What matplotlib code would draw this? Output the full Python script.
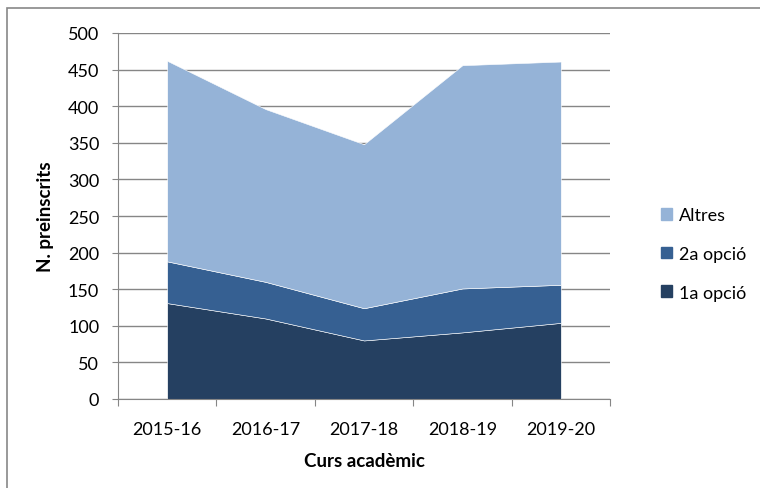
import numpy as np
import matplotlib.pyplot as plt
from matplotlib.patches import Rectangle, Patch

# Data
cursos = ["2015-16", "2016-17", "2017-18", "2018-19", "2019-20"]
opcio1 = [131, 110, 80, 91, 104]
opcio2 = [57, 50, 44, 60, 52]
altres = [274, 236, 224, 305, 305]

COLORS = {"1a": "#254061", "2a": "#366092", "altres": "#95B3D7"}

plt.rcParams["font.family"] = ["Lato", "DejaVu Sans"]

fig = plt.figure(figsize=(7.6, 4.89), dpi=100)
# outer chart frame
fig.patches.append(Rectangle((7 / 760, -0.1), 1.0, 1 - 9 / 489 + 0.1,
                             transform=fig.transFigure, fill=False,
                             edgecolor="#878787", linewidth=1.2))

ax = fig.add_axes([118 / 760, 1 - 400 / 489, (610 - 118) / 760, (400 - 34) / 489])

x = np.arange(len(cursos))
ax.stackplot(x, opcio1, opcio2, altres,
             colors=[COLORS["1a"], COLORS["2a"], COLORS["altres"]],
             edgecolor="white", linewidth=0.4, zorder=2)

ax.set_xlim(-0.5, len(cursos) - 0.5)
ax.set_ylim(0, 500)
ax.set_yticks(np.arange(0, 501, 50))
ax.yaxis.grid(True, color="#868686", linewidth=1.0, zorder=0)
ax.set_axisbelow(True)

# ticks at category boundaries, labels at the centres
ax.set_xticks(np.arange(-0.5, len(cursos), 1.0))
ax.set_xticklabels([])
ax.set_xticks(x, minor=True)
ax.set_xticklabels(cursos, minor=True, fontsize=13)
ax.tick_params(axis="x", which="minor", length=0, pad=15.5)
ax.tick_params(axis="x", which="major", length=5, color="#868686")
ax.tick_params(axis="y", length=4.5, color="#868686", labelsize=13, pad=9)

for side in ["top", "right"]:
    ax.spines[side].set_visible(False)
for side in ["left", "bottom"]:
    ax.spines[side].set_color("#868686")

ax.set_ylabel("N. preinscrits", fontsize=13.5, fontweight="bold")
ax.yaxis.set_label_coords(-0.13, 0.5)
ax.set_xlabel("Curs acadèmic", fontsize=13.5, fontweight="bold", labelpad=11)

handles = [Patch(color=COLORS["altres"], label="Altres"),
           Patch(color=COLORS["2a"], label="2a opció"),
           Patch(color=COLORS["1a"], label="1a opció")]
fig.legend(handles=handles, loc="center left", bbox_to_anchor=(645 / 760, 1 - 255 / 489),
           frameon=False, fontsize=13, handlelength=0.6, handleheight=0.6,
           handletextpad=0.4, labelspacing=1.25)

fig.savefig("out.png", dpi=100)
